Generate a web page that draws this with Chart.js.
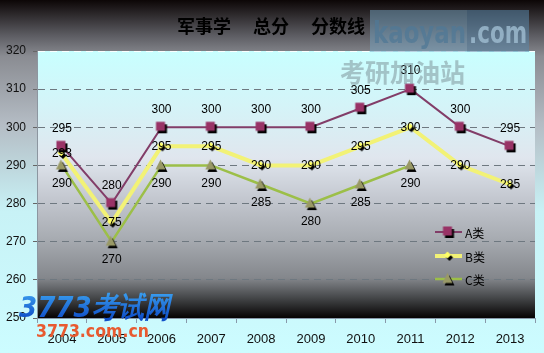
<!DOCTYPE html>
<html>
<head>
<meta charset="utf-8">
<script src="https://cdn.jsdelivr.net/npm/chart.js@4.4.1/dist/chart.umd.min.js"></script>
<style>
  body { margin: 0; background: #ccffff; }
  canvas { display: block; }
</style>
</head>
<body>
<canvas id="scoreChart" width="544" height="353"></canvas>
<script>
// 数据
const years = ['2004', '2005', '2006', '2007', '2008', '2009', '2010', '2011', '2012', '2013'];
const scoresA = [295, 280, 300, 300, 300, 300, 305, 310, 300, 295];
const scoresB = [293, 275, 295, 295, 290, 290, 295, 300, 290, 285];
const scoresC = [290, 270, 290, 290, 285, 280, 285, 290, null, null];
const seriesNames = ['A类', 'B类', 'C类'];
const yMin = 250, yMax = 320, yStep = 10;
const chartTitle = '军事学\u3000 总分\u3000 分数线';

// 带阴影的点标记
function makeMarker(shape, fill, size) {
    let w = size + 5;
    let c = document.createElement('canvas');
    c.width = w; c.height = w;
    let ctx = c.getContext('2d');
    const draw = (cx, cy, color) => {
        ctx.fillStyle = color;
        ctx.beginPath();
        let h = size / 2;
        if (shape === 'square') {
            ctx.rect(cx - h, cy - h, size, size);
        } else if (shape === 'diamond') {
            ctx.moveTo(cx, cy - h); ctx.lineTo(cx + h, cy);
            ctx.lineTo(cx, cy + h); ctx.lineTo(cx - h, cy);
        } else {
            ctx.moveTo(cx, cy - h); ctx.lineTo(cx + h, cy + h); ctx.lineTo(cx - h, cy + h);
        }
        ctx.closePath();
        ctx.fill();
    };
    draw(w / 2 + 1, w / 2 + 1.5, '#000');
    draw(w / 2 - 1, w / 2 - 1, fill);
    return c;
}

const markA = makeMarker('square', '#993366', 9);
const markB = makeMarker('diamond', '#ffff66', 7);
const markC = makeMarker('triangle', '#999966', 10);
const markers = [markA, markB, markC];
const lineColors = ['#823d68', '#f2f276', '#9cbf48'];
const lineWidths = [2, 4, 2.5];

// 背景
const bgPlugin = {
    id: 'bg',
    beforeDraw(chart) {
        const { ctx, chartArea: a, width, height } = chart;
        let g = ctx.createLinearGradient(0, 0, 0, height);
        g.addColorStop(0, '#0c0606');
        g.addColorStop(0.1, '#5c5c62');
        g.addColorStop(0.16, '#8a8c92');
        g.addColorStop(0.35, '#b4bcc4');
        g.addColorStop(0.6, '#c8f2f6');
        g.addColorStop(1, '#ccfcff');
        ctx.fillStyle = g;
        ctx.fillRect(0, 0, width, height);

        let p = ctx.createLinearGradient(0, a.top, 0, a.bottom);
        p.addColorStop(0, '#c8ffff');
        p.addColorStop(0.2, '#d4f4f8');
        p.addColorStop(0.4, '#e0e6ee');
        p.addColorStop(0.55, '#c4c8d0');
        p.addColorStop(0.7, '#a8acb2');
        p.addColorStop(0.85, '#84878c');
        p.addColorStop(0.93, '#404244');
        p.addColorStop(1, '#050202');
        ctx.fillStyle = p;
        ctx.fillRect(a.left, a.top, a.right - a.left, a.bottom - a.top);

        ctx.save();
        ctx.fillStyle = '#000';
        ctx.font = 'bold 18px "Noto Sans CJK SC"';
        ctx.textAlign = 'center';
        ctx.textBaseline = 'middle';
        ctx.fillText(chartTitle, 271, 26);
        ctx.restore();
    }
};

// 数值标签 + 图例 + 水印
const labelPlugin = {
    id: 'labels',
    afterDatasetsDraw(chart) {
        const ctx = chart.ctx;
        const offsets = [-18, 0, 18];
        ctx.save();
        ctx.font = '12px "Liberation Sans"';
        ctx.fillStyle = '#000';
        ctx.textAlign = 'center';
        ctx.textBaseline = 'middle';
        for (let i = 2; i >= 0; i--) {
            let ds = chart.data.datasets[i];
            chart.getDatasetMeta(i).data.forEach((pt, j) => {
                if (ds.data[j] == null) return;
                ctx.fillText(String(ds.data[j]), pt.x, pt.y + offsets[i]);
            });
        }

        // 图例
        const legendY = [232, 256, 279];
        ctx.font = '12px "Noto Sans CJK SC"';
        ctx.textAlign = 'left';
        seriesNames.forEach((name, i) => {
            ctx.strokeStyle = lineColors[i];
            ctx.lineWidth = lineWidths[i];
            ctx.beginPath();
            ctx.moveTo(435, legendY[i]);
            ctx.lineTo(462, legendY[i]);
            ctx.stroke();
            let m = markers[i];
            ctx.drawImage(m, 448.5 - m.width / 2, legendY[i] - m.height / 2);
            ctx.fillStyle = '#000';
            ctx.fillText(name, 465, legendY[i] + 1);
        });
        ctx.restore();
    },
    afterDraw(chart) {
        const ctx = chart.ctx;
        ctx.save();
        // kaoyan.com
        ctx.fillStyle = 'rgba(120,165,195,0.5)';
        ctx.fillRect(370, 10, 97, 42);
        ctx.fillStyle = 'rgba(90,135,170,0.55)';
        ctx.fillRect(467, 10, 62, 42);
        ctx.textBaseline = 'alphabetic';
        ctx.font = 'bold 31px "DejaVu Sans Condensed"';
        ctx.fillStyle = 'rgba(80,120,150,0.75)';
        ctx.fillText('kaoyan', 373, 43, 93);
        ctx.fillStyle = 'rgba(160,190,210,0.8)';
        ctx.fillText('.com', 469, 43, 58);

        ctx.font = 'bold 25px "Noto Sans CJK SC"';
        ctx.fillStyle = 'rgba(120,140,145,0.5)';
        ctx.textBaseline = 'middle';
        ctx.fillText('考研加油站', 340, 72, 188);

        let g = ctx.createLinearGradient(0, 292, 0, 318);
        g.addColorStop(0, '#3aa0f0');
        g.addColorStop(1, '#1050c8');
        ctx.fillStyle = g;
        ctx.font = 'italic bold 29px "DejaVu Sans"';
        ctx.textBaseline = 'alphabetic';
        ctx.fillText('3773考试网', 19, 317, 151);

        ctx.fillStyle = '#e85a30';
        ctx.font = 'bold 17px "DejaVu Sans"';
        ctx.fillText('3773.com.cn', 36, 337, 113);
        ctx.restore();
    }
};

function makeDataset(i, values) {
    return {
        label: seriesNames[i],
        data: values,
        borderColor: lineColors[i],
        borderWidth: lineWidths[i],
        pointStyle: markers[i],
        pointRadius: 5,
        tension: 0,
        spanGaps: false,
    };
}

new Chart(document.getElementById('scoreChart'), {
    type: 'line',
    data: {
        labels: years,
        datasets: [makeDataset(0, scoresA), makeDataset(1, scoresB), makeDataset(2, scoresC)],
    },
    options: {
        responsive: false,
        devicePixelRatio: 1,
        animation: false,
        layout: { padding: { top: 51, right: 9, left: 0, bottom: 0 } },
        plugins: {
            legend: { display: false },
            tooltip: { enabled: false },
        },
        scales: {
            x: {
                offset: true,
                afterFit: (s) => { s.height = 35; },
                grid: { drawOnChartArea: false, offset: true, tickLength: 5, tickColor: '#8899aa' },
                border: { color: '#8899aa' },
                ticks: { color: '#111', font: { family: 'Liberation Sans', size: 13 }, padding: 9 },
            },
            y: {
                min: yMin,
                max: yMax,
                afterFit: (s) => { s.width = 37; },
                grid: {
                    color: (c) => (c.tick && c.tick.value === yMax ? 'rgba(255,255,255,0.9)' : '#6e7880'),
                    tickColor: '#666',
                    tickLength: 4,
                },
                border: { color: '#8c96a0', dash: [7, 5] },
                ticks: {
                    stepSize: yStep,
                    color: '#111',
                    padding: 7,
                    font: { family: 'Liberation Sans', size: 12 },
                },
            },
        },
    },
    plugins: [bgPlugin, labelPlugin],
});
</script>
</body>
</html>
